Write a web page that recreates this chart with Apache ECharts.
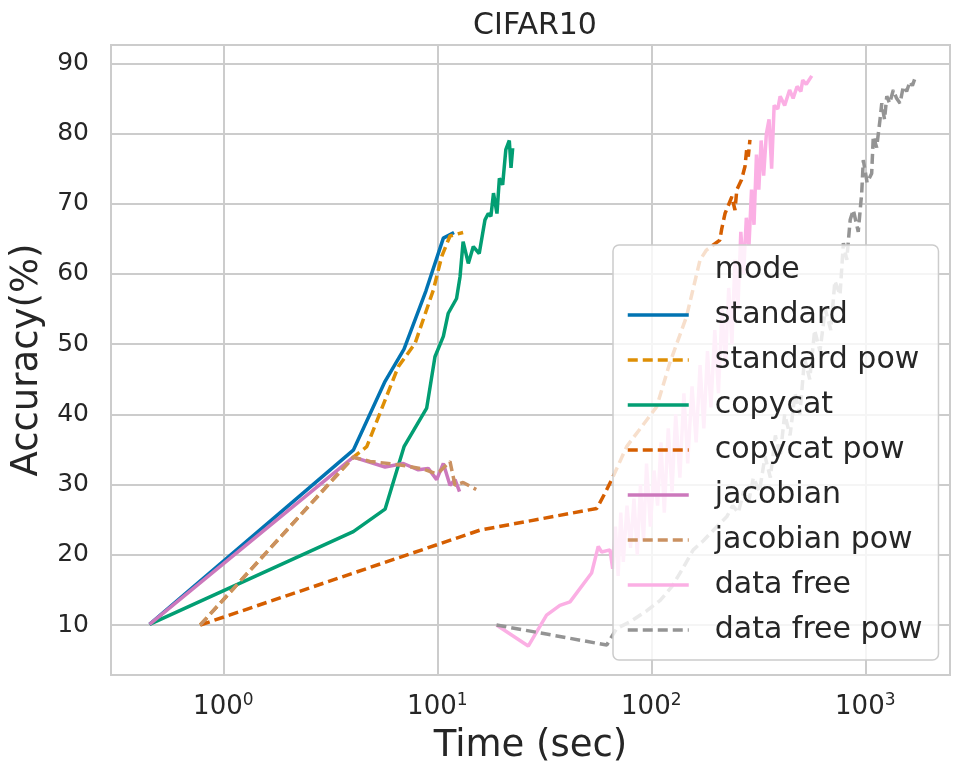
<!DOCTYPE html>
<html>
<head>
<meta charset="utf-8">
<script src="https://cdn.jsdelivr.net/npm/echarts@6/dist/echarts.min.js"></script>
<style>
  html, body { margin: 0; padding: 0; background: #fff; }
  #chart { width: 954px; height: 765px; }
</style>
</head>
<body>
<div id="chart"></div>
<script>
// time (sec) / accuracy (%)
const modes = ["standard", "standard pow", "copycat", "copycat pow", "jacobian", "jacobian pow", "data free", "data free pow"];
const colors = ["#0173b2", "#de8f05", "#029e73", "#d55e00", "#cc78bc", "#ca9161", "#fbafe4", "#949494"];

const standardT = [0.452, 4.05, 5.70, 6.99, 8.85, 10.67, 11.97];
const standardA = [10.1, 34.9, 44.7, 49.3, 57.6, 65.1, 65.9];

const standardPowT = [0.78, 4.05, 4.68, 5.40, 6.57, 7.87, 9.58, 10.49, 11.46, 13.2];
const standardPowA = [10, 33.9, 35.4, 40.2, 46.8, 50.1, 57.7, 62.5, 65.4, 65.9];

const copycatT = [0.452, 4.05, 5.70, 6.99, 8.92, 9.75, 10.67, 11.25, 12.3, 12.77, 13.2, 13.96, 14.73, 15.7, 16.7, 17.3, 17.8, 18.3, 19.0, 19.5, 20.2, 20.9, 21.7, 22.1, 22.5];
const copycatA = [10.1, 23.3, 26.5, 35.4, 40.9, 48.2, 51.1, 54.4, 56.5, 59.6, 64.6, 61.5, 63.9, 62.9, 67.7, 68.6, 68.2, 71.5, 68.6, 73.6, 72.7, 77.7, 79.0, 75.1, 77.9];

const copycatPowT = [0.78, 15.8, 55.6, 60.8, 65.3, 76.7, 106, 122, 146, 169, 181, 209, 213, 221, 238, 246, 251, 264, 274, 279, 284, 289];
const copycatPowA = [10, 23.5, 26.6, 28.8, 30.7, 35.4, 41.1, 47.3, 53.9, 62.0, 63.4, 64.8, 66.3, 68.6, 71.0, 69.1, 72.0, 73.4, 75.3, 77.7, 76.7, 79.1];

const jacobianT = [0.452, 4.05, 5.70, 6.94, 8.15, 9.07, 9.93, 10.67, 11.46, 12.1, 12.7];
const jacobianA = [10.1, 33.9, 32.5, 33.0, 32.1, 32.3, 30.7, 33.0, 29.9, 30.7, 29.0];

const jacobianPowT = [0.78, 4.05, 4.85, 6.69, 8.6, 9.75, 10.3, 11.46, 12.1, 13.2, 15.2];
const jacobianPowA = [10, 33.9, 33.3, 32.8, 32.2, 31.6, 31.9, 33.3, 29.9, 30.3, 29.3];

const dataFreeT = [18.9, 26.6, 32.4, 37.4, 41.7, 52.6, 56.5, 58.6, 64.1, 66, 68, 70, 72, 74, 77, 80, 83, 86, 89, 92,
  95, 99, 103, 107, 111, 115, 120, 125, 130, 136, 142, 148, 155, 162, 169, 176, 183, 190, 198, 206,
  214, 222, 230, 238, 246, 254, 262, 270, 278, 286, 294, 302, 310, 318, 326, 335, 345, 355, 365, 375,
  390, 400, 420, 443, 460, 480, 500, 510, 530, 562];
const dataFreeA = [10, 7.0, 11.4, 12.8, 13.3, 17.4, 21.2, 20.4, 20.7, 18, 24, 17, 26, 19, 27, 21, 28, 20, 30, 22,
  33, 24, 32, 27, 36, 26, 38, 29, 40, 31, 43, 33, 44, 36, 47, 38, 49, 41, 52, 43,
  55, 47, 58, 50, 62, 55, 66, 60, 68, 64, 72, 67, 77, 72, 79, 74, 80, 82, 75, 84,
  83.5, 85.3, 84, 86.2, 85, 86.7, 86, 87.6, 87, 88.2];

const dataFreePowT = [18.9, 61.9, 68.9, 80, 95, 110, 125, 140, 157, 175, 195, 210, 225, 240, 255, 270, 285, 300, 320, 340,
  360, 380, 400, 420, 445, 470, 495, 520, 550, 580, 614, 650, 690, 721, 762, 790, 819, 850, 879, 927,
  962, 979, 1020, 1071, 1090, 1130, 1171, 1194, 1230, 1260, 1300, 1352, 1400, 1453, 1506, 1560, 1618, 1660, 1708];
const dataFreePowA = [10, 7.15, 9.5, 10.5, 12, 13.5, 15.5, 18, 20.7, 22, 23.5, 24.5, 25.4, 27, 26, 29, 27.5, 31, 29, 34,
  31, 37, 34, 40, 37, 43, 40, 48, 45, 52, 49, 55, 52, 59, 57, 64.4, 62, 67.7, 69.1, 66,
  71.5, 76.2, 73, 74.3, 79.6, 78, 81.9, 84.3, 82, 85.3, 84.3, 86.2, 85, 84.3, 86.7, 86, 87.4, 86.8, 87.9];

const xTicksBase = "100"; // tick labels read "100" + superscript exponent

const zip = (t, a) => t.map((v, i) => [v, a[i]]);
const seriesData = [
  zip(standardT, standardA),
  zip(standardPowT, standardPowA),
  zip(copycatT, copycatA),
  zip(copycatPowT, copycatPowA),
  zip(jacobianT, jacobianA),
  zip(jacobianPowT, jacobianPowA),
  zip(dataFreeT, dataFreeA),
  zip(dataFreePowT, dataFreePowA),
];

const textColor = "#262626";
const font = "DejaVu Sans";

const series = [{
  // legend title row
  name: "mode", type: "line", data: [], symbol: "none",
  lineStyle: { opacity: 0 }, itemStyle: { opacity: 0 },
}];
modes.forEach((m, i) => {
  const dashed = m.endsWith("pow");
  series.push({
    name: m,
    type: "line",
    data: seriesData[i],
    symbol: "none",
    color: colors[i],
    lineStyle: { width: 3.5, color: colors[i], type: dashed ? [10, 5] : "solid" },
  });
});

const chart = echarts.init(document.getElementById("chart"), null, { renderer: "canvas" });
chart.setOption({
  animation: false,
  backgroundColor: "#fff",
  textStyle: { fontFamily: font },
  title: {
    text: "CIFAR10",
    left: 530, top: 6, textAlign: "center",
    textStyle: { fontFamily: font, fontSize: 30, fontWeight: "normal", color: textColor },
  },
  grid: {
    left: 111, right: 4, top: 45, bottom: 90,
    outerBoundsMode: "none",
    show: true, borderColor: "#cccccc", borderWidth: 2, backgroundColor: "transparent",
  },
  legend: {
    data: ["mode"].concat(modes),
    orient: "vertical",
    left: 613, top: 245,
    padding: [10, 16, 15, 13],
    itemWidth: 61, itemHeight: 14, itemGap: 15,
    selectedMode: false,
    backgroundColor: "rgba(255,255,255,0.8)",
    borderColor: "#cccccc", borderWidth: 1.5, borderRadius: 6,
    itemStyle: { opacity: 0 },
    lineStyle: { width: 3.5 },
    textStyle: { fontFamily: font, fontSize: 30, color: textColor, lineHeight: 30, padding: [0, 0, 0, 21] },
  },
  xAxis: {
    type: "log",
    logBase: 10,
    min: 0.2986, max: 2488,
    name: "Time (sec)",
    nameLocation: "middle",
    nameGap: 53,
    nameTextStyle: { fontFamily: font, fontSize: 37, color: textColor },
    axisLine: { show: false },
    axisTick: { show: false },
    minorTick: { show: false },
    splitLine: { show: true, lineStyle: { color: "#cccccc", width: 2 } },
    axisLabel: {
      showMinLabel: false, showMaxLabel: false,
      margin: 17,
      color: textColor,
      formatter: (v) => xTicksBase + "{s|" + Math.round(Math.log10(v)) + "}",
      rich: {
        s: { fontSize: 17, fontFamily: font, color: textColor, padding: [0, 0, 14, 0] },
      },
      fontSize: 26, fontFamily: font,
    },
  },
  yAxis: {
    type: "value",
    min: 2.88, max: 92.6,
    splitNumber: 9, minInterval: 10, maxInterval: 10,
    name: "Accuracy(%)",
    nameLocation: "middle",
    nameGap: 63,
    nameTextStyle: { fontFamily: font, fontSize: 37, color: textColor },
    axisLine: { show: false },
    axisTick: { show: false },
    splitLine: { show: true, lineStyle: { color: "#cccccc", width: 2 } },
    axisLabel: {
      showMinLabel: false, showMaxLabel: false,
      margin: 22, fontSize: 25, fontFamily: font, color: textColor,
    },
  },
  series: series,
});
</script>
</body>
</html>
